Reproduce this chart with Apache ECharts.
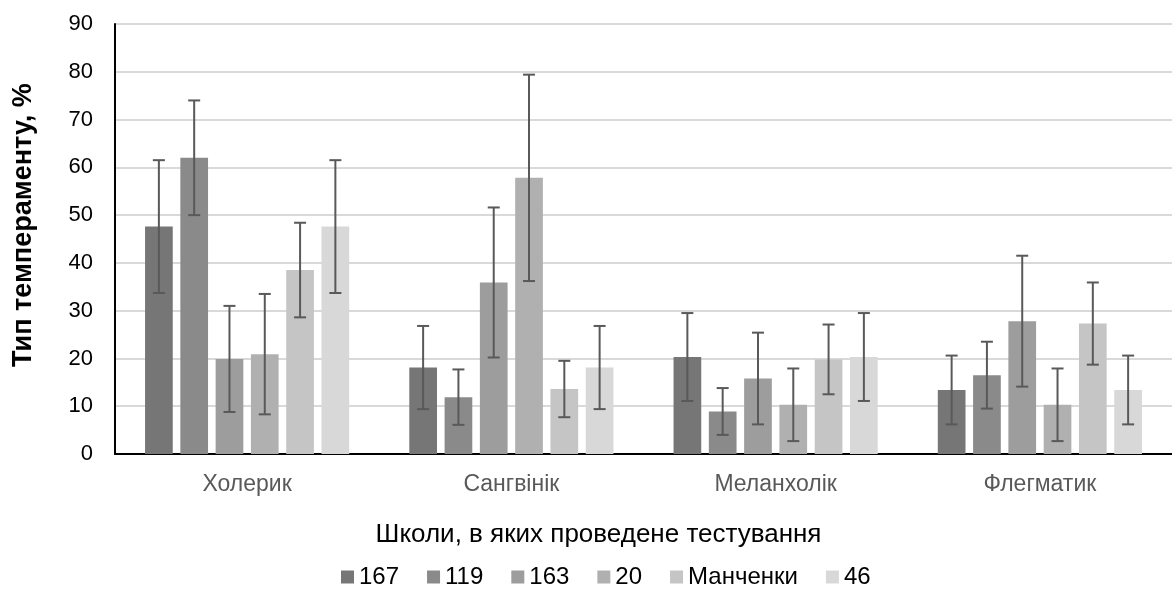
<!DOCTYPE html>
<html>
<head>
<meta charset="utf-8">
<script src="https://cdn.jsdelivr.net/npm/echarts@6/dist/echarts.min.js"></script>
<style>
html,body{margin:0;padding:0;background:#fff;}
#chart{width:1172px;height:590px;}
</style>
</head>
<body>
<div id="chart"></div>
<script>
const categories = ['Холерик', 'Сангвінік', 'Меланхолік', 'Флегматик'];
const seriesNames = ['167', '119', '163', '20', 'Манченки', '46'];
const values167 = [47.6, 18.1, 20.3, 13.4];
const values119 = [62.0, 11.9, 8.9, 16.5];
const values163 = [19.9, 35.9, 15.8, 27.8];
const values20 = [20.9, 57.8, 10.3, 10.3];
const valuesManchenky = [38.5, 13.6, 19.8, 27.3];
const values46 = [47.6, 18.1, 20.3, 13.4];
const err167 = [13.9, 8.7, 9.2, 7.2];
const err119 = [12.0, 5.8, 4.9, 7.0];
const err163 = [11.1, 15.7, 9.6, 13.7];
const err20 = [12.6, 21.6, 7.6, 7.6];
const errManchenky = [9.9, 5.9, 7.3, 8.6];
const err46 = [13.9, 8.7, 9.2, 7.2];
const yTicks = [0, 10, 20, 30, 40, 50, 60, 70, 80, 90];

const allValues = [values167, values119, values163, values20, valuesManchenky, values46];
const allErrors = [err167, err119, err163, err20, errManchenky, err46];
const colors = ['#767676', '#8a8a8a', '#9d9d9d', '#b0b0b0', '#c5c5c5', '#d8d8d8'];

const BAR_W = 27.7;
const BAR_PITCH = 35.3;
const FONT = 'Liberation Sans, Arial, sans-serif';

const chart = echarts.init(document.getElementById('chart'));
const series = [];
seriesNames.forEach((name, i) => {
  series.push({
    name: name,
    type: 'bar',
    data: allValues[i],
    barWidth: BAR_W,
    barGap: ((BAR_PITCH - BAR_W) / BAR_W * 100).toFixed(1) + '%',
    itemStyle: { color: colors[i] },
    emphasis: { disabled: true },
    z: 2
  });
});
seriesNames.forEach((name, i) => {
  const offset = (i - (seriesNames.length - 1) / 2) * BAR_PITCH;
  series.push({
    name: name + '_err',
    type: 'custom',
    z: 5,
    silent: true,
    data: allValues[i].map((v, j) => [j, v, allErrors[i][j]]),
    renderItem: function (params, api) {
      const c = api.value(0);
      const v = api.value(1);
      const e = api.value(2);
      const top = api.coord([c, v + e]);
      const bot = api.coord([c, v - e]);
      const x = top[0] + offset;
      const cap = 6;
      const style = { stroke: '#595959', lineWidth: 2, fill: null };
      return {
        type: 'group',
        children: [
          { type: 'line', shape: { x1: x, y1: top[1], x2: x, y2: bot[1] }, style: style },
          { type: 'line', shape: { x1: x - cap, y1: top[1], x2: x + cap, y2: top[1] }, style: style },
          { type: 'line', shape: { x1: x - cap, y1: bot[1], x2: x + cap, y2: bot[1] }, style: style }
        ]
      };
    }
  });
});

chart.setOption({
  animation: false,
  backgroundColor: '#ffffff',
  textStyle: { fontFamily: FONT },
  grid: { left: 115, top: 24, right: -5, bottom: 136, containLabel: false },
  legend: {
    data: seriesNames,
    top: 565,
    left: 341,
    padding: 0,
    icon: 'rect',
    itemWidth: 13,
    itemHeight: 13,
    itemGap: 28,
    textStyle: { fontSize: 24, color: '#000000', fontFamily: FONT }
  },
  xAxis: {
    type: 'category',
    data: categories,
    name: 'Школи, в яких проведене тестування',
    nameLocation: 'middle',
    nameGap: 68,
    nameTextStyle: { fontSize: 26, color: '#000000', fontFamily: FONT, padding: [0, 90, 0, 0] },
    axisLine: { lineStyle: { color: '#000000', width: 2 } },
    axisTick: { show: false },
    axisLabel: { fontSize: 23, color: '#595959', margin: 19, fontFamily: FONT }
  },
  yAxis: {
    type: 'value',
    min: yTicks[0],
    max: yTicks[yTicks.length - 1],
    interval: 10,
    name: 'Тип темпераменту, %',
    nameLocation: 'middle',
    nameGap: 78,
    nameTextStyle: { fontSize: 27, fontWeight: 'bold', color: '#000000', fontFamily: FONT, padding: [0, 0, 0, 28] },
    axisLine: { show: true, lineStyle: { color: '#000000', width: 2 } },
    axisTick: { show: false },
    axisLabel: { fontSize: 22, color: '#000000', margin: 22, fontFamily: FONT },
    splitLine: { lineStyle: { color: '#d9d9d9', width: 2 } }
  },
  series: series
});
</script>
</body>
</html>
